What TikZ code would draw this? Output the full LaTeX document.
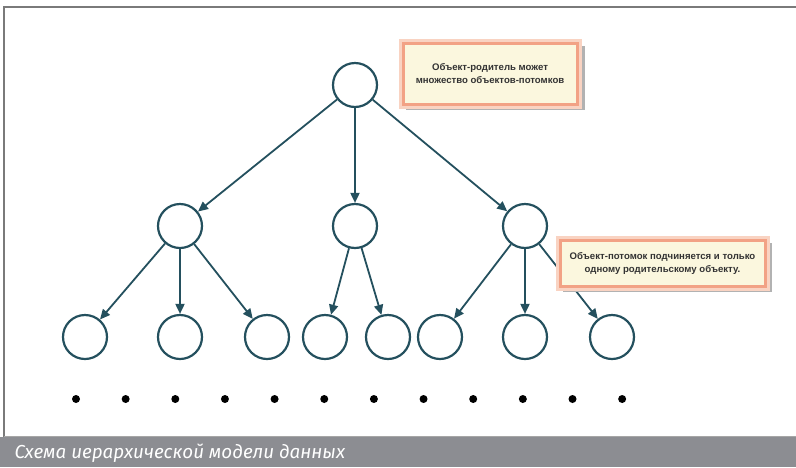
\documentclass[tikz,border=0pt]{standalone}
\usepackage{fontspec}
\setmainfont{Liberation Sans}
\newfontfamily\capfont{Fira Sans}
\usetikzlibrary{arrows.meta}
\definecolor{edgecol}{HTML}{24505E}
\definecolor{salmon}{HTML}{F2A285}
\definecolor{salmonlite}{HTML}{F9D3C2}
\definecolor{cream}{HTML}{FBF7DE}
\definecolor{barcol}{HTML}{8C8D92}
\definecolor{framecol}{HTML}{7A7A7A}
\tikzset{
  obj/.style={circle, draw=edgecol, line width=2.2pt, minimum size=44pt, inner sep=0pt, fill=white},
  link/.style={draw=edgecol, line width=1.8pt, -{Triangle[length=10pt,width=9pt]}, shorten >=0pt},
  dotmark/.style={circle, fill=black, minimum size=8pt, inner sep=0pt},
  callout/.style={draw=salmon, line width=3pt, fill=cream, inner sep=0pt, align=center, font=\fontsize{9.6}{13}\selectfont\bfseries, text=black!80},
}
\begin{document}
\begin{tikzpicture}[x=1pt,y=-1pt]
\useasboundingbox (0,0) rectangle (796,467);
\fill[white] (0,0) rectangle (796,467);
% frame
\draw[framecol, line width=1.3pt] (4,437) -- (4,7) -- (796,7);
% caption bar
\fill[barcol] (0,437) rectangle (796,467);
\draw[black!35, line width=1pt] (4,436.5) -- (796,436.5);
\node[anchor=west, text=white, font=\capfont\itshape\fontsize{18.8}{20}\selectfont] (cap) at (11,453) {Схема иерархической модели данных};
% nodes
\node[obj] (r) at (355,85) {};
\node[obj] (a) at (180,226) {};
\node[obj] (b) at (355,226) {};
\node[obj] (c) at (525,226) {};
\node[obj] (a1) at (85,337) {};
\node[obj] (a2) at (180,337) {};
\node[obj] (a3) at (267,337) {};
\node[obj] (b1) at (325,337) {};
\node[obj] (b2) at (388,337) {};
\node[obj] (c1) at (440,337) {};
\node[obj] (c2) at (525,337) {};
\node[obj] (c3) at (612,337) {};
% links
\draw[link] (r) -- (a);
\draw[link] (r) -- (b);
\draw[link] (r) -- (c);
\draw[link] (a) -- (a1);
\draw[link] (a) -- (a2);
\draw[link] (a) -- (a3);
\draw[link] (b) -- (b1);
\draw[link] (b) -- (b2);
\draw[link] (c) -- (c1);
\draw[link] (c) -- (c2);
\draw[link] (c) -- (c3);
% dots
\foreach \i in {0,...,11} {
  \node[dotmark] (d\i) at ({76+49.65*\i},399) {};
}
% callouts with shadow and glow
\fill[black!30] (406,46) rectangle (585,110);
\draw[salmonlite, line width=6pt] (401.5,41.5) rectangle (578.5,105.5);
\node[callout, minimum width=174pt, minimum height=61pt] (n1) at (490,73.5) {Объект-родитель может\\множество объектов-потомков};
\fill[black!30] (563,243) rectangle (772,292);
\draw[salmonlite, line width=6pt] (558.5,238.5) rectangle (766.5,287.5);
\node[callout, minimum width=205pt, minimum height=46pt] (n2) at (662.5,263) {Объект-потомок подчиняется и только\\одному родительскому объекту.};
\end{tikzpicture}
\end{document}
